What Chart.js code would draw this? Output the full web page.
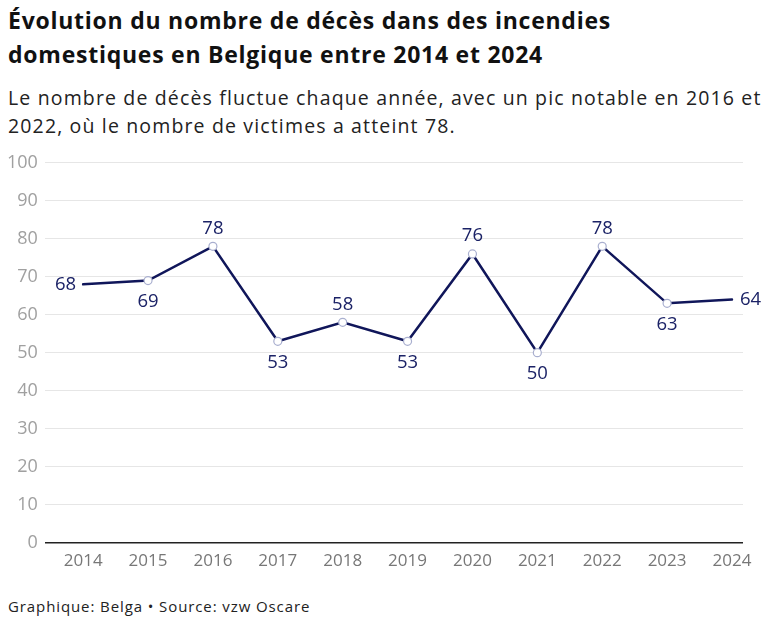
<!DOCTYPE html>
<html lang="fr">
<head>
<meta charset="utf-8">
<script src="https://cdn.jsdelivr.net/npm/chart.js@4/dist/chart.umd.min.js"></script>
<style>
  html, body { margin: 0; padding: 0; background: #fff; }
  body { width: 770px; height: 626px; position: relative; overflow: hidden; font-family: "Open Sans", sans-serif; }
  #title { position: absolute; left: 8px; top: 3px; width: 765px; font-size: 23px; font-weight: 700; line-height: 34px; color: #111; letter-spacing: 0.75px; white-space: nowrap; }
  #subtitle { position: absolute; left: 8px; top: 84px; width: 765px; font-size: 19.5px; line-height: 28px; color: #222; letter-spacing: 1.15px; white-space: nowrap; }
  #chartBox { position: absolute; left: 0; top: 145px; width: 770px; height: 434px; }
  #footer { position: absolute; left: 8px; top: 596px; font-size: 15px; color: #222; letter-spacing: 0.9px; }
</style>
</head>
<body>
<div id="title">Évolution du nombre de décès dans des incendies<br>domestiques en Belgique entre 2014 et 2024</div>
<div id="subtitle">Le nombre de décès fluctue chaque année, avec un pic notable en 2016 et<br>2022, où le nombre de victimes a atteint 78.</div>
<div id="chartBox"><canvas id="deathChart"></canvas></div>
<div id="footer">Graphique: Belga • Source: vzw Oscare</div>

<script>
/* =========================================================
   DATA
========================================================= */
const years = [2014, 2015, 2016, 2017, 2018, 2019, 2020, 2021, 2022, 2023, 2024];
const deaths = [68, 69, 78, 53, 58, 53, 76, 50, 78, 63, 64];
const yTicks = [0, 10, 20, 30, 40, 50, 60, 70, 80, 90, 100];
const labelSide = ["left", "below", "above", "below", "above", "below", "above", "below", "above", "below", "right"];

/* =========================================================
   VALUE LABELS
========================================================= */
const valueLabels = {
  id: "valueLabels",
  afterDatasetsDraw(chart) {
    const ctx = chart.ctx;
    const meta = chart.getDatasetMeta(0);
    ctx.save();
    ctx.fillStyle = "#1b2266";
    ctx.font = '18.5px "Open Sans"';
    meta.data.forEach((pt, i) => {
      const side = labelSide[i];
      let x = pt.x, y = pt.y;
      ctx.textAlign = "center";
      ctx.textBaseline = "middle";
      if (side === "above") y -= 18;
      if (side === "below") y += 21;
      if (side === "left") { ctx.textAlign = "right"; x -= 7; }
      if (side === "right") { ctx.textAlign = "left"; x += 8; }
      ctx.fillText(String(deaths[i]), x, y);
    });
    ctx.restore();
  }
};

/* =========================================================
   CHART
========================================================= */
const radii = years.map((_, i) => (i === 0 || i === years.length - 1) ? 0 : 4);

new Chart(document.getElementById("deathChart"), {
  type: "line",
  data: {
    datasets: [{
      data: years.map((y, i) => ({ x: y, y: deaths[i] })),
      borderColor: "#10165a",
      borderWidth: 2.5,
      borderCapStyle: "round",
      tension: 0,
      pointRadius: radii,
      pointBackgroundColor: "#ffffff",
      pointBorderColor: "#a9afcf",
      pointBorderWidth: 1.2
    }]
  },
  options: {
    responsive: true,
    maintainAspectRatio: false,
    animation: false,
    layout: { padding: { top: 15, right: 27, left: 0, bottom: 0 } },
    plugins: { legend: { display: false }, tooltip: { enabled: false } },
    scales: {
      x: {
        type: "linear",
        min: 2013.41,
        max: 2024.17,
        afterBuildTicks: axis => { axis.ticks = years.map(v => ({ value: v })); },
        grid: { display: false, drawTicks: false },
        border: { display: false },
        ticks: {
          color: "#777",
          font: { family: "Open Sans", size: 17 },
          padding: 8,
          maxRotation: 0,
          callback: v => String(v)
        }
      },
      y: {
        min: 0,
        max: 100,
        afterBuildTicks: axis => { axis.ticks = yTicks.map(v => ({ value: v })); },
        grid: {
          color: ctx => ctx.tick.value === 0 ? "#222" : "#e6e6e6",
          lineWidth: ctx => ctx.tick.value === 0 ? 1.5 : 1,
          drawTicks: false
        },
        border: { display: false },
        ticks: {
          color: "#a0a0a0",
          font: { family: "Open Sans", size: 18 },
          padding: 7
        }
      }
    }
  },
  plugins: [valueLabels]
});
</script>
</body>
</html>
